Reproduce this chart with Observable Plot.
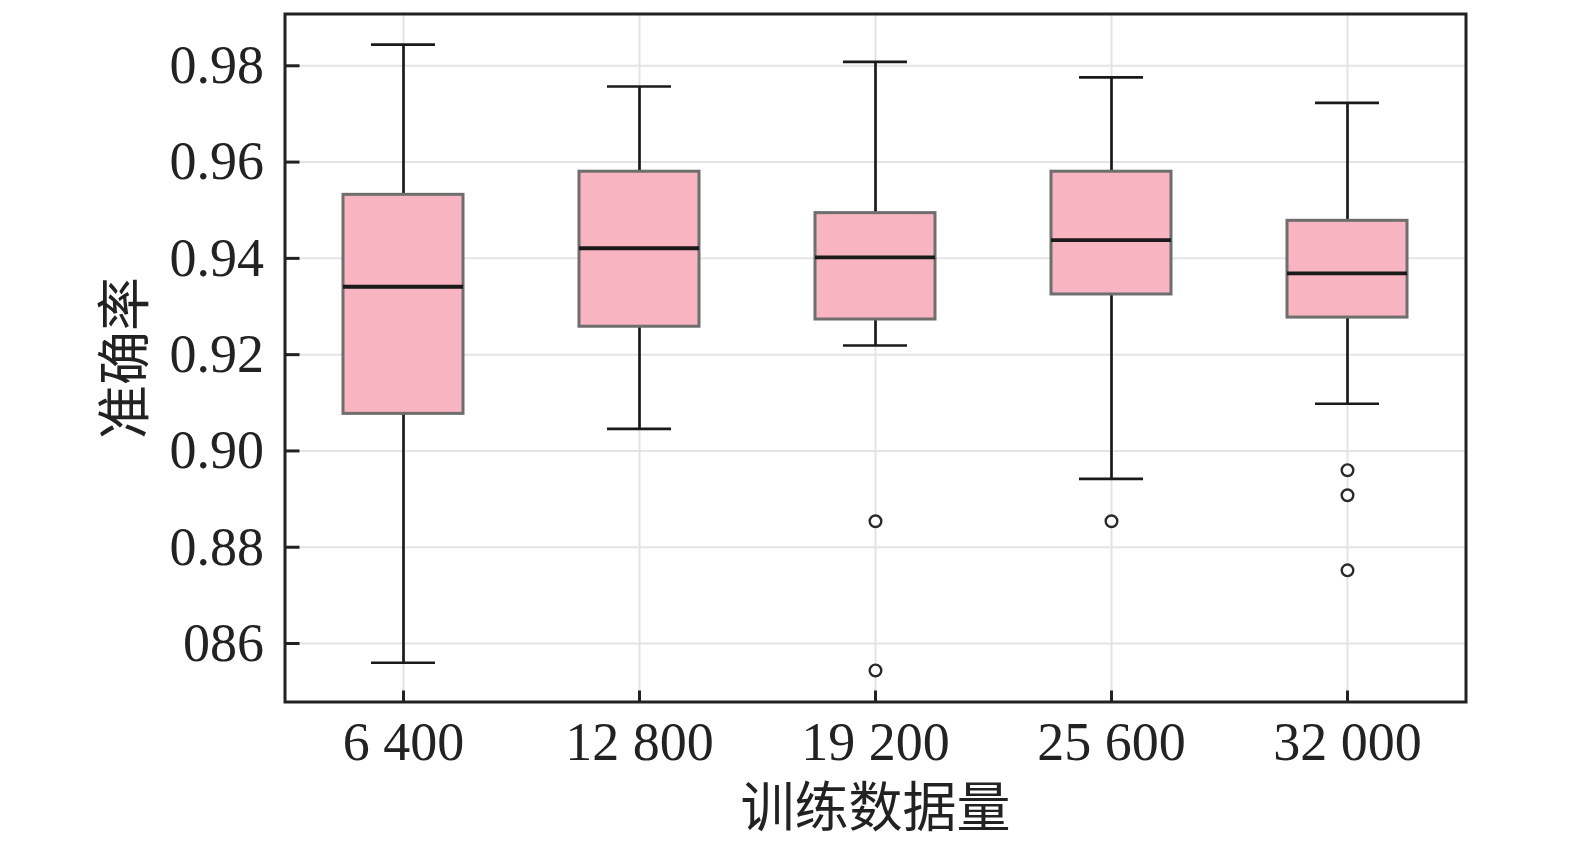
<!DOCTYPE html>
<html>
<head>
<meta charset="utf-8">
<script src="https://cdn.jsdelivr.net/npm/d3@7"></script>
<script src="https://cdn.jsdelivr.net/npm/@observablehq/plot@0.6"></script>
<style>
html,body{margin:0;padding:0;background:#fff;overflow:hidden;}
#chart svg{display:block;max-width:none !important;}
</style>
</head>
<body>
<div id="chart"></div>
<script>
const categories = ["6 400", "12 800", "19 200", "25 600", "32 000"];
const lows    = [0.8560, 0.9046, 0.9219, 0.8942, 0.9098];
const q1s     = [0.9077, 0.9258, 0.9273, 0.9325, 0.9277];
const medians = [0.9341, 0.9421, 0.9402, 0.9438, 0.9369];
const q3s     = [0.9532, 0.9580, 0.9494, 0.9580, 0.9478];
const highs   = [0.9844, 0.9757, 0.9808, 0.9776, 0.9723];
const outlierCats   = ["19 200", "19 200", "25 600", "32 000", "32 000", "32 000"];
const outlierValues = [0.8854, 0.8544, 0.8854, 0.8960, 0.8908, 0.8752];
const yTicks = [0.86, 0.88, 0.90, 0.92, 0.94, 0.96, 0.98];
const yTickLabels = ["086", "0.88", "0.90", "0.92", "0.94", "0.96", "0.98"];
const yLabel = "准确率";
const xLabel = "训练数据量";

const boxes = categories.map((c, i) => ({cat: c, lo: lows[i], q1: q1s[i], med: medians[i], q3: q3s[i], hi: highs[i]}));
const outliers = outlierCats.map((c, i) => ({cat: c, v: outlierValues[i]}));

const font = "'Liberation Serif', 'Noto Sans CJK SC', serif";

const chart = Plot.plot({
  width: 1575,
  height: 844,
  marginLeft: 284.5,
  marginRight: 109.5,
  marginTop: 13.5,
  marginBottom: 142.5,
  style: {fontFamily: font, fontSize: "54px", color: "#222", background: "#fff"},
  x: {type: "band", domain: categories, padding: 0},
  y: {domain: [0.84785, 0.99076]},
  marks: [
    Plot.gridY(yTicks, {stroke: "#e4e4e4", strokeOpacity: 1, strokeWidth: 2}),
    Plot.gridX(categories, {stroke: "#e4e4e4", strokeOpacity: 1, strokeWidth: 2}),
    Plot.ruleX(boxes, {x: "cat", y1: "lo", y2: "q1", stroke: "#1a1a1a", strokeWidth: 2.7}),
    Plot.ruleX(boxes, {x: "cat", y1: "q3", y2: "hi", stroke: "#1a1a1a", strokeWidth: 2.7}),
    Plot.tickY(boxes, {x: "cat", y: "lo", stroke: "#1a1a1a", strokeWidth: 2.7, insetLeft: 86, insetRight: 86}),
    Plot.tickY(boxes, {x: "cat", y: "hi", stroke: "#1a1a1a", strokeWidth: 2.7, insetLeft: 86, insetRight: 86}),
    Plot.barY(boxes, {x: "cat", y1: "q1", y2: "q3", fill: "#f8b4c0", stroke: "#6e6e6e", strokeWidth: 3, insetLeft: 58, insetRight: 58}),
    Plot.tickY(boxes, {x: "cat", y: "med", stroke: "#1a1a1a", strokeWidth: 3.8, insetLeft: 58, insetRight: 58}),
    Plot.dot(outliers, {x: "cat", y: "v", r: 5.8, stroke: "#2a2a2a", strokeWidth: 2.4, fill: "#fff"}),
    Plot.axisY(yTicks, {
      tickSize: -15, tickPadding: 36, stroke: "#222", strokeWidth: 3,
      tickFormat: (d) => yTickLabels[yTicks.indexOf(d)],
      fontSize: 54, fill: "#222",
      label: yLabel, labelAnchor: "center", labelArrow: "none", labelOffset: 179
    }),
    Plot.axisX(categories, {
      tickSize: -11, tickPadding: 31, stroke: "#222", strokeWidth: 3,
      fontSize: 54, fill: "#222",
      label: xLabel, labelAnchor: "center", labelArrow: "none", labelOffset: 125
    }),
    Plot.frame({stroke: "#222", strokeWidth: 3})
  ]
});
document.getElementById("chart").appendChild(chart);
</script>
</body>
</html>
